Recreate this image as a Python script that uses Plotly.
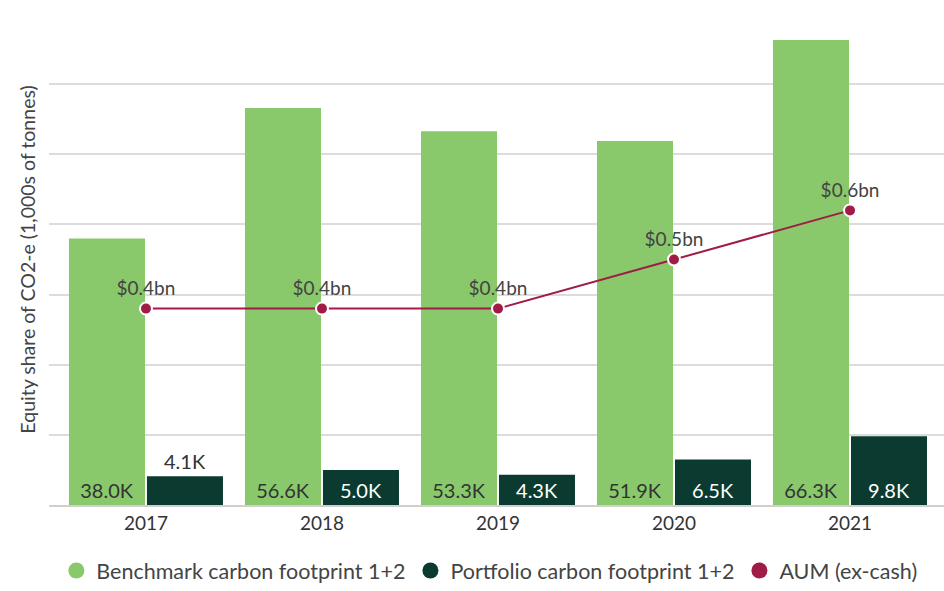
import plotly.graph_objects as go

years = ["2017", "2018", "2019", "2020", "2021"]
benchmark = [38.0, 56.6, 53.3, 51.9, 66.3]
portfolio = [4.1, 5.0, 4.3, 6.5, 9.8]
aum = [0.4, 0.4, 0.4, 0.5, 0.6]
benchmark_labels = ["38.0K", "56.6K", "53.3K", "51.9K", "66.3K"]
portfolio_labels = ["4.1K", "5.0K", "4.3K", "6.5K", "9.8K"]
aum_labels = ["$0.4bn", "$0.4bn", "$0.4bn", "$0.5bn", "$0.6bn"]

LIGHT = "#89c86b"
DARK = "#0b3b30"
CRIMSON = "#a01c47"
FONT = "Lato, 'Open Sans', sans-serif"

fig = go.Figure()
xi = list(range(len(years)))

fig.add_trace(go.Bar(
    x=xi, y=benchmark, name="Benchmark carbon footprint 1+2",
    marker=dict(color=LIGHT, line=dict(width=0)),
    text=benchmark_labels, textposition="inside", insidetextanchor="start",
    textangle=0, textfont=dict(color="#333333", size=20, family=FONT),
    showlegend=False, hoverinfo="skip"))

fig.add_trace(go.Bar(
    x=xi, y=portfolio, name="Portfolio carbon footprint 1+2",
    marker=dict(color=DARK, line=dict(width=0)),
    text=portfolio_labels,
    textposition=["outside", "inside", "inside", "inside", "inside"],
    insidetextanchor="start", textangle=0,
    insidetextfont=dict(color="white", size=20, family=FONT),
    outsidetextfont=dict(color="#333333", size=20, family=FONT),
    cliponaxis=False,
    showlegend=False, hoverinfo="skip"))

fig.add_trace(go.Scatter(
    x=xi, y=aum, yaxis="y2", name="AUM (ex-cash)",
    mode="lines+markers+text",
    line=dict(color=CRIMSON, width=2),
    marker=dict(color=CRIMSON, size=12, line=dict(color="white", width=2)),
    text=aum_labels, textposition="top center",
    textfont=dict(color="#444444", size=19, family=FONT),
    showlegend=False, cliponaxis=False, hoverinfo="skip"))

# legend entries with circle symbols
for name, col in [("Benchmark carbon footprint 1+2", LIGHT),
                  ("Portfolio carbon footprint 1+2", DARK),
                  ("AUM (ex-cash)", CRIMSON)]:
    fig.add_trace(go.Scatter(
        x=[None], y=[None], mode="markers", name=name,
        marker=dict(color=col, size=18, symbol="circle"),
        showlegend=True))

fig.update_layout(
    width=944, height=591,
    margin=dict(l=49, r=0, t=14, b=86),
    paper_bgcolor="white", plot_bgcolor="white",
    font=dict(family=FONT, color="#444444", size=19),
    barmode="group", bargap=0.114, bargroupgap=0.025,
    xaxis=dict(
        tickmode="array", tickvals=xi, ticktext=years,
        range=[-0.551, 4.534], showgrid=False,
        showline=True, linecolor="#cfcfcf", linewidth=2,
        ticks="", tickfont=dict(size=19, color="#333333", family=FONT),
        zeroline=False, automargin=False),
    yaxis=dict(
        range=[0, 70], dtick=10, showticklabels=False,
        showgrid=True, gridcolor="#dcdcdc", gridwidth=2,
        zeroline=False, ticks="", automargin=False,
        title=dict(text="Equity share of CO2-e (1,000s of tonnes)",
                   font=dict(size=19.5, color="#444444", family=FONT),
                   standoff=7)),
    yaxis2=dict(range=[0, 1], overlaying="y", side="right",
                showgrid=False, showticklabels=False, zeroline=False,
                visible=False),
    legend=dict(orientation="h", x=0.492, xanchor="center",
                xref="paper", yref="container", y=0.0,
                yanchor="bottom", font=dict(size=21.5, color="#444444", family=FONT),
                itemsizing="trace", traceorder="normal"),
)

fig.write_html("out.html", config={"displayModeBar": False},
               post_script="document.body.style.margin='0';document.body.style.overflow='hidden';")
